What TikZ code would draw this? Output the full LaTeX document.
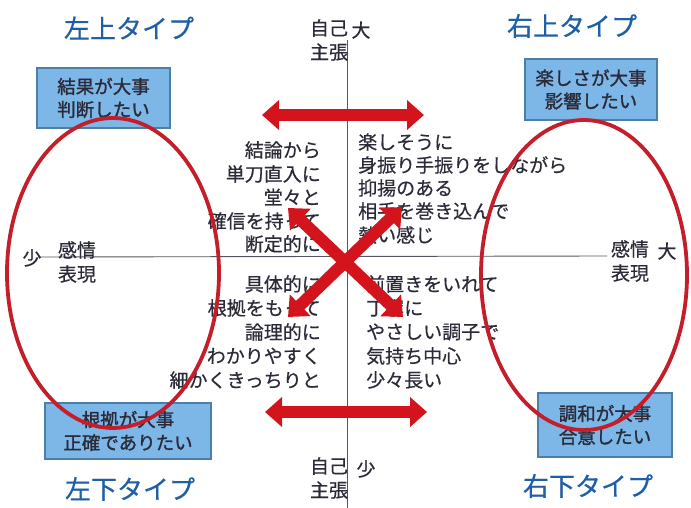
\documentclass[tikz,border=0pt]{standalone}
\usepackage{fontspec}
\setmainfont{Noto Sans CJK JP}[FakeBold=0.4]
\newfontfamily\cjkbold{Noto Sans CJK JP}[FakeBold=1.3]
\usetikzlibrary{arrows.meta}
\definecolor{redA}{HTML}{D4141C}
\definecolor{redE}{HTML}{C41E2A}
\definecolor{boxblue}{HTML}{7DB7E8}
\definecolor{boxedge}{HTML}{4D7EA8}
\definecolor{titleblue}{HTML}{1F5FA6}
\definecolor{txt}{HTML}{2A2A38}
\definecolor{axisgray}{HTML}{555560}
\begin{document}
\begin{tikzpicture}[x=1pt,y=-1pt,
  title/.style={inner sep=0pt,text=titleblue,font=\fontsize{26}{28}\selectfont},
  typebox/.style={draw=boxedge,line width=1.2pt,fill=boxblue,inner sep=0pt,
    text=txt,font=\cjkbold\fontsize{18.5}{23}\selectfont,align=center},
  ltext/.style={inner sep=0pt,anchor=east,text=txt,font=\fontsize{19}{20}\selectfont},
  rtext/.style={inner sep=0pt,anchor=west,text=txt,font=\fontsize{19}{20}\selectfont},
  axlab/.style={inner sep=0pt,text=txt,font=\fontsize{19}{24}\selectfont,align=center},
  axisline/.style={draw=axisgray,line width=0.9pt},
  oval/.style={draw=redE,line width=3.8pt},
  fatarrow/.style={draw=redA,line width=12pt,
    {Triangle[width=29pt,length=17pt]}-{Triangle[width=29pt,length=17pt]}}
]
\useasboundingbox[fill=white] (0,0) rectangle (691,508);

% titles
\node[title] (tl) at (129,28) {左上タイプ};
\node[title] (tr) at (572,26) {右上タイプ};
\node[title] (bl) at (130,489) {左下タイプ};
\node[title] (br) at (588,486) {右下タイプ};

% boxes
\node[typebox,minimum width=133pt,minimum height=60pt] (b1) at (103.5,98) {結果が大事\\判断したい};
\node[typebox,minimum width=132pt,minimum height=61pt] (b2) at (591,89.5) {楽しさが大事\\影響したい};
\node[typebox,minimum width=166pt,minimum height=56pt] (b3) at (128,431) {根拠が大事\\正確でありたい};
\node[typebox,minimum width=134pt,minimum height=64pt] (b4) at (605,425) {調和が大事\\合意したい};

% axes
\coordinate (vtop) at (347,40);
\coordinate (vbot) at (347,508);
\coordinate (hleft) at (40,257);
\coordinate (hright) at (607,256);
\draw[axisline] (vtop) -- (vbot);
\draw[axisline] (hleft) -- (hright);

% axis labels
\node[axlab] (selfT) at (329,40) {自己\\主張};
\node[axlab] (bigT) at (361,30) {大};
\node[axlab] (selfB) at (329,478) {自己\\主張};
\node[axlab] (smallB) at (366,469) {少};
\node[axlab] (smallL) at (32,258) {少};
\node[axlab] (emoL) at (77,262) {感情\\表現};
\node[axlab] (emoR) at (630,261) {感情\\表現};
\node[axlab] (bigR) at (667,251) {大};

% upper-left list
\node[ltext] (a1) at (321,150) {結論から};
\node[ltext] (a2) at (321,174) {単刀直入に};
\node[ltext] (a3) at (321,197) {堂々と};
\node[ltext] (a4) at (321,221) {確信を持って};
\node[ltext] (a5) at (321,244) {断定的に};
% upper-right list
\node[rtext] (c1) at (358,142) {楽しそうに};
\node[rtext] (c2) at (358,165) {身振り手振りをしながら};
\node[rtext] (c3) at (358,188) {抑揚のある};
\node[rtext] (c4) at (358,211) {相手を巻き込んで};
\node[rtext] (c5) at (358,235) {熱い感じ};
% lower-left list
\node[ltext] (d1) at (321,284) {具体的に};
\node[ltext] (d2) at (321,308) {根拠をもって};
\node[ltext] (d3) at (321,332) {論理的に};
\node[ltext] (d4) at (321,356) {わかりやすく};
\node[ltext] (d5) at (321,380) {細かくきっちりと};
% lower-right list
\node[rtext] (e1) at (366,284) {前置きをいれて};
\node[rtext] (e2) at (366,308) {丁寧に};
\node[rtext] (e3) at (366,332) {やさしい調子で};
\node[rtext] (e4) at (366,356) {気持ち中心};
\node[rtext] (e5) at (366,380) {少々長い};

% ellipses
\draw[oval] (113,273) ellipse [x radius=106, y radius=155];
\draw[oval] (584,275) ellipse [x radius=103, y radius=155];

% arrows
\coordinate (tA) at (262,115);
\coordinate (tB) at (424,115);
\coordinate (bA) at (265,412);
\coordinate (bB) at (427,412);
\coordinate (nw) at (288,208);
\coordinate (se) at (403,317);
\coordinate (ne) at (402,207);
\coordinate (sw) at (288,317);
\draw[fatarrow] (tA) -- (tB);
\draw[fatarrow] (bA) -- (bB);
\draw[fatarrow] (nw) -- (se);
\draw[fatarrow] (ne) -- (sw);
\end{tikzpicture}
\end{document}
